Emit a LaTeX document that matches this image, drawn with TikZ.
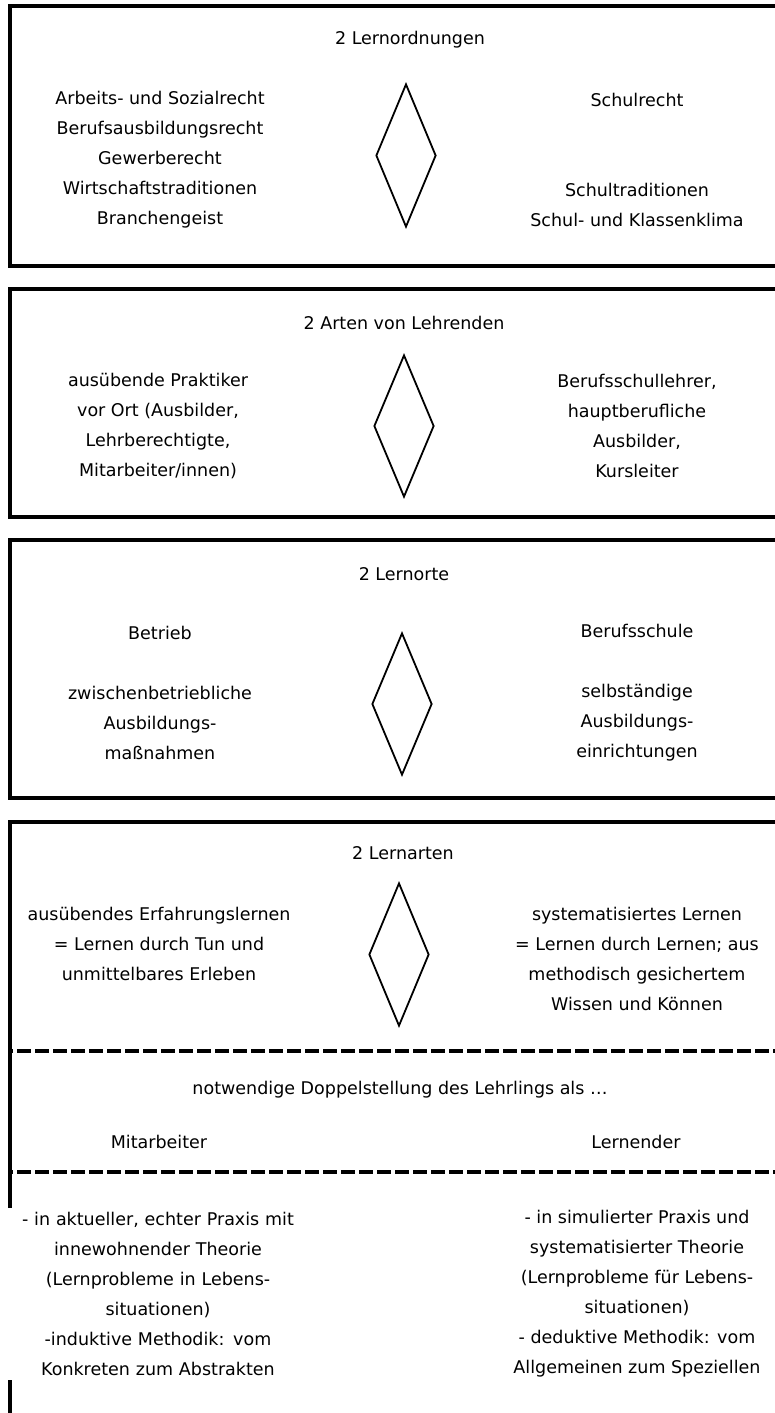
\documentclass[tikz,border=0pt]{standalone}
\usepackage{fontspec}
\setmainfont{DejaVu Sans}
\usetikzlibrary{shapes.geometric}
\begin{document}
\begin{tikzpicture}[x=1pt,y=-1pt,
  frame/.style={line width=4pt},
  dashline/.style={line width=3.6pt, dash pattern=on 14pt off 4pt, dash phase=10.5pt},
  txt/.style={font=\fontsize{17.5}{30}\selectfont, align=center, inner sep=0pt},
  rhomb/.style={draw, diamond, line width=1.8pt, inner sep=0pt, minimum width=60pt, minimum height=143pt}]
\useasboundingbox (0,0) rectangle (774,1413);
% frames
\draw[frame] (800,6) -| (9.5,266) -- (800,266);
\draw[frame] (800,289) -| (9.5,517) -- (800,517);
\draw[frame] (800,540) -| (9.5,798) -- (800,798);
\draw[frame] (800,822) -| (9.5,1440);
\coordinate (da1) at (9.5,1051);
\coordinate (db1) at (800,1051);
\coordinate (da2) at (9.5,1172);
\coordinate (db2) at (800,1172);
\draw[dashline] (da1) -- (db1);
\draw[dashline] (da2) -- (db2);
% box 1
\node[txt] (t1) at (410,40) {2 Lernordnungen};
\node[txt] (l1) at (160,160) {Arbeits- und Sozialrecht\\Berufsausbildungsrecht\\Gewerberecht\\Wirtschaftstraditionen\\Branchengeist};
\node[txt] (r1) at (637,160) {Schulrecht\\\mbox{}\\\mbox{}\\Schultraditionen\\Schul- und Klassenklima};
\node[rhomb] (d1) at (406,155.5) {};
% box 2
\node[txt] (t2) at (404,323) {2 Arten von Lehrenden};
\node[txt] (l2) at (158,426) {ausübende Praktiker\\vor Ort (Ausbilder,\\Lehrberechtigte,\\Mitarbeiter/innen)};
\node[txt] (r2) at (637,426) {Berufsschullehrer,\\hauptberufliche\\Ausbilder,\\Kursleiter};
\node[rhomb, minimum height=142pt] (d2) at (404,426) {};
% box 3
\node[txt] (t3) at (404,574) {2 Lernorte};
\node[txt] (l3) at (160,693) {Betrieb\\\mbox{}\\zwischenbetriebliche\\Ausbildungs-\\maßnahmen};
\node[txt] (r3) at (637,693) {Berufsschule\\\mbox{}\\selbständige\\Ausbildungs-\\einrichtungen};
\node[rhomb, minimum height=142pt] (d3) at (402,704) {};
% box 4
\node[txt] (t4) at (403,853) {2 Lernarten};
\node[txt] (l4) at (159,943.5) {ausübendes Erfahrungslernen\\= Lernen durch Tun und\\unmittelbares Erleben};
\node[txt] (r4) at (637,958.5) {systematisiertes Lernen\\= Lernen durch Lernen; aus\\methodisch gesichertem\\Wissen und Können};
\node[rhomb] (d4) at (399,954.5) {};
\node[txt] (n5) at (400,1090) {notwendige Doppelstellung des Lehrlings als …};
\node[txt] (m5) at (159,1142) {Mitarbeiter};
\node[txt] (le5) at (636,1142) {Lernender};
\node[txt, fill=white, text width=316pt, inner ysep=4pt] (l6) at (158,1294) {- in aktueller, echter Praxis mit\hspace*{16pt}\\innewohnender Theorie\\(Lernprobleme in Lebens-\\situationen)\\-induktive Methodik: vom\\Konkreten zum Abstrakten};
\node[txt] (r6) at (637,1294) {- in simulierter Praxis und\\systematisierter Theorie\\(Lernprobleme für Lebens-\\situationen)\\- deduktive Methodik: vom\\Allgemeinen zum Speziellen};
\end{tikzpicture}
\end{document}
